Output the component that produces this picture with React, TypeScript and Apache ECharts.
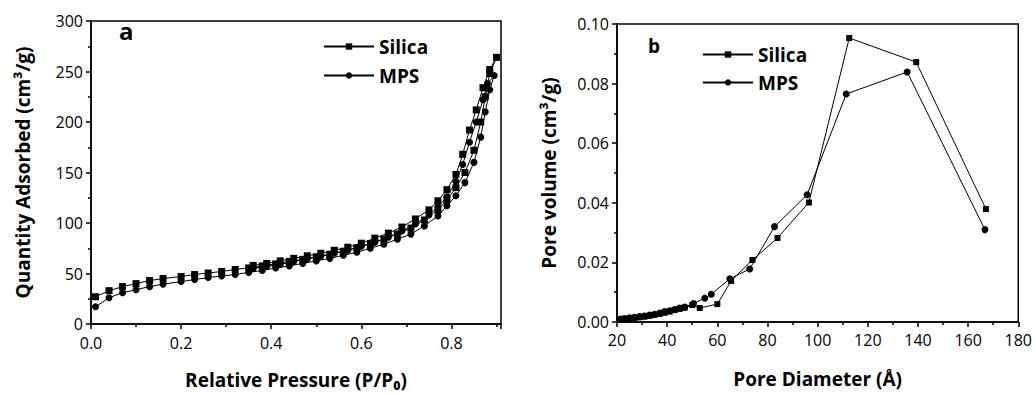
import React, { useEffect, useRef } from "react";
import * as echarts from "echarts";

// Panel a: N2 isotherms (adsorption branch then desorption branch)
const silicaAdsP = [0.01,0.04,0.07,0.10,0.13,0.16,0.20,0.23,0.26,0.29,0.32,0.35,0.38,0.41,0.44,0.47,0.50,0.53,0.56,0.59,0.62,0.65,0.68,0.71,0.74,0.77,0.79,0.81,0.83,0.85,0.865,0.875,0.885,0.90];
const silicaAdsQ = [27,33,37,40,43,45,47,49,50.5,52,54,55.5,57.5,59.5,62,64,66.5,69,72,75.5,79.5,84,89,95,103,113,123,135,150,172,200,225,248,264];
const silicaDesP = [0.885,0.87,0.855,0.84,0.825,0.81,0.79,0.77,0.75,0.72,0.69,0.66,0.63,0.60,0.57,0.54,0.51,0.48,0.45,0.42,0.39,0.36];
const silicaDesQ = [252,234,212,192,168,148,133,122,113,104,96,90,85,80,76,73,70,67.5,65,62.5,60,58];

const mpsAdsP = [0.01,0.04,0.07,0.10,0.13,0.16,0.20,0.23,0.26,0.29,0.32,0.35,0.38,0.41,0.44,0.47,0.50,0.53,0.56,0.59,0.62,0.65,0.68,0.71,0.74,0.77,0.79,0.81,0.83,0.85,0.865,0.875,0.885,0.895];
const mpsAdsQ = [17,26,31,34,37,39.5,42,44,46,47.5,49,51,53,55.5,57.5,60,62.5,65,68,71,75,79,84,89,97,107,117,127,140,160,185,210,232,246];
const mpsDesP = [0.88,0.87,0.855,0.84,0.825,0.81,0.79,0.77,0.75,0.72,0.69,0.66,0.63,0.60,0.57,0.54,0.51,0.48,0.45,0.42,0.39,0.36];
const mpsDesQ = [238,222,200,180,158,141,126,116,108,99,92,86,81,77,73,70,67,64.5,62,59,57,55];

// Panel b: pore size distribution
const silicaD = [21.5,23,25,27,29,31,33,35,37,39,41,43,45,47,50,53,60,65.5,74,84,96.5,112.6,139.3,167.1];
const silicaV = [0.0008,0.001,0.0012,0.0014,0.0016,0.0018,0.0021,0.0024,0.0027,0.0031,0.0035,0.004,0.0044,0.0048,0.0057,0.0047,0.006,0.0138,0.0208,0.0282,0.0401,0.0953,0.0872,0.0379];
const mpsD = [21.5,23,25,27,29,31,33,35,37,39,41,43,45,47,50.5,55,57.6,65,72.9,82.8,95.8,111.4,135.7,166.7];
const mpsV = [0.001,0.0012,0.0014,0.0016,0.0018,0.002,0.0023,0.0026,0.003,0.0035,0.0038,0.0042,0.0047,0.005,0.0062,0.008,0.0093,0.0145,0.0178,0.032,0.0427,0.0765,0.0839,0.031];

const zip = (xs: number[], ys: number[]) => xs.map((x, i) => [x, ys[i]]);

const FONT = "'Open Sans', 'Noto Sans', sans-serif";

export default function App() {
  const ref = useRef<HTMLDivElement>(null);
  useEffect(() => {
    if (!ref.current) return;
    const chart = echarts.init(ref.current, undefined, { renderer: "svg" });
    const axisCommon = {
      axisLine: { show: true, onZero: false, lineStyle: { color: "#000", width: 1.5 } },
      axisTick: { show: true, inside: false, length: 5, lineStyle: { color: "#000", width: 1.5 } },
      minorTick: { show: true, splitNumber: 2, length: 3, lineStyle: { color: "#000", width: 1.5 } },
      splitLine: { show: false },
      axisLabel: { color: "#000", fontSize: 16, fontFamily: FONT, margin: 8 },
      nameLocation: "middle" as const,
      nameTextStyle: { color: "#000", fontSize: 19, fontWeight: "bold" as const, fontFamily: FONT },
    };
    const lineCommon = {
      type: "line" as const,
      symbolSize: 7,
      lineStyle: { color: "#000", width: 1 },
      itemStyle: { color: "#000" },
      z: 3,
    };
    const legendText = { color: "#000", fontSize: 19, fontWeight: "bold", fontFamily: FONT };
    chart.setOption({
      animation: false,
      backgroundColor: "#fff",
      grid: [
        { left: 91, top: 21, width: 410, height: 304, show: true, borderColor: "#000", borderWidth: 1.5, backgroundColor: "transparent" },
        { left: 617, top: 24, width: 402, height: 298, show: true, borderColor: "#000", borderWidth: 1.5, backgroundColor: "transparent" },
      ],
      xAxis: [
        {
          ...axisCommon, gridIndex: 0, type: "value", min: 0, max: 0.91, interval: 0.2,
          axisLabel: { ...axisCommon.axisLabel, margin: 11, formatter: (v: number) => v.toFixed(1), showMaxLabel: false },
          name: "Relative Pressure (P/P₀)", nameGap: 46,
        },
        {
          ...axisCommon, gridIndex: 1, type: "value", min: 20, max: 180, interval: 20,
          axisLabel: { ...axisCommon.axisLabel, margin: 10 },
          name: "Pore Diameter (Å)", nameGap: 47,
        },
      ],
      yAxis: [
        {
          ...axisCommon, gridIndex: 0, type: "value", min: 0, max: 300, interval: 50,
          name: "Quantity Adsorbed (cm³/g)", nameGap: 59,
        },
        {
          ...axisCommon, gridIndex: 1, type: "value", min: 0, max: 0.1, interval: 0.02,
          axisLabel: { ...axisCommon.axisLabel, formatter: (v: number) => v.toFixed(2) },
          name: "Pore volume (cm³/g)", nameGap: 59,
        },
      ],
      legend: [
        {
          data: ["Silica", "MPS"], orient: "vertical", left: 318, top: 32, itemWidth: 50, itemHeight: 8, itemGap: 10,
          textStyle: legendText,
        },
        {
          data: ["Silica", "MPS"], orient: "vertical", left: 697, top: 40, itemWidth: 50, itemHeight: 8, itemGap: 9,
          textStyle: legendText,
        },
      ],
      graphic: [
        { type: "text", left: 119, top: 18, style: { text: "a", fontSize: 24, fontWeight: "bold", fontFamily: FONT, fill: "#000" } },
        { type: "text", left: 648, top: 36, style: { text: "b", fontSize: 19, fontWeight: "bold", fontFamily: FONT, fill: "#000" } },
      ],
      series: [
        { ...lineCommon, name: "Silica", symbol: "rect", xAxisIndex: 0, yAxisIndex: 0, data: [...zip(silicaAdsP, silicaAdsQ), ...zip(silicaDesP, silicaDesQ)] },
        { ...lineCommon, name: "MPS", symbol: "circle", xAxisIndex: 0, yAxisIndex: 0, data: [...zip(mpsAdsP, mpsAdsQ), ...zip(mpsDesP, mpsDesQ)] },
        { ...lineCommon, name: "Silica", symbol: "rect", symbolSize: 6, xAxisIndex: 1, yAxisIndex: 1, data: zip(silicaD, silicaV) },
        { ...lineCommon, name: "MPS", symbol: "circle", symbolSize: 7, xAxisIndex: 1, yAxisIndex: 1, data: zip(mpsD, mpsV) },
      ],
    });
    return () => chart.dispose();
  }, []);
  return <div ref={ref} style={{ position: "fixed", left: 0, top: 0, width: 1035, height: 394, background: "#fff" }} />;
}
